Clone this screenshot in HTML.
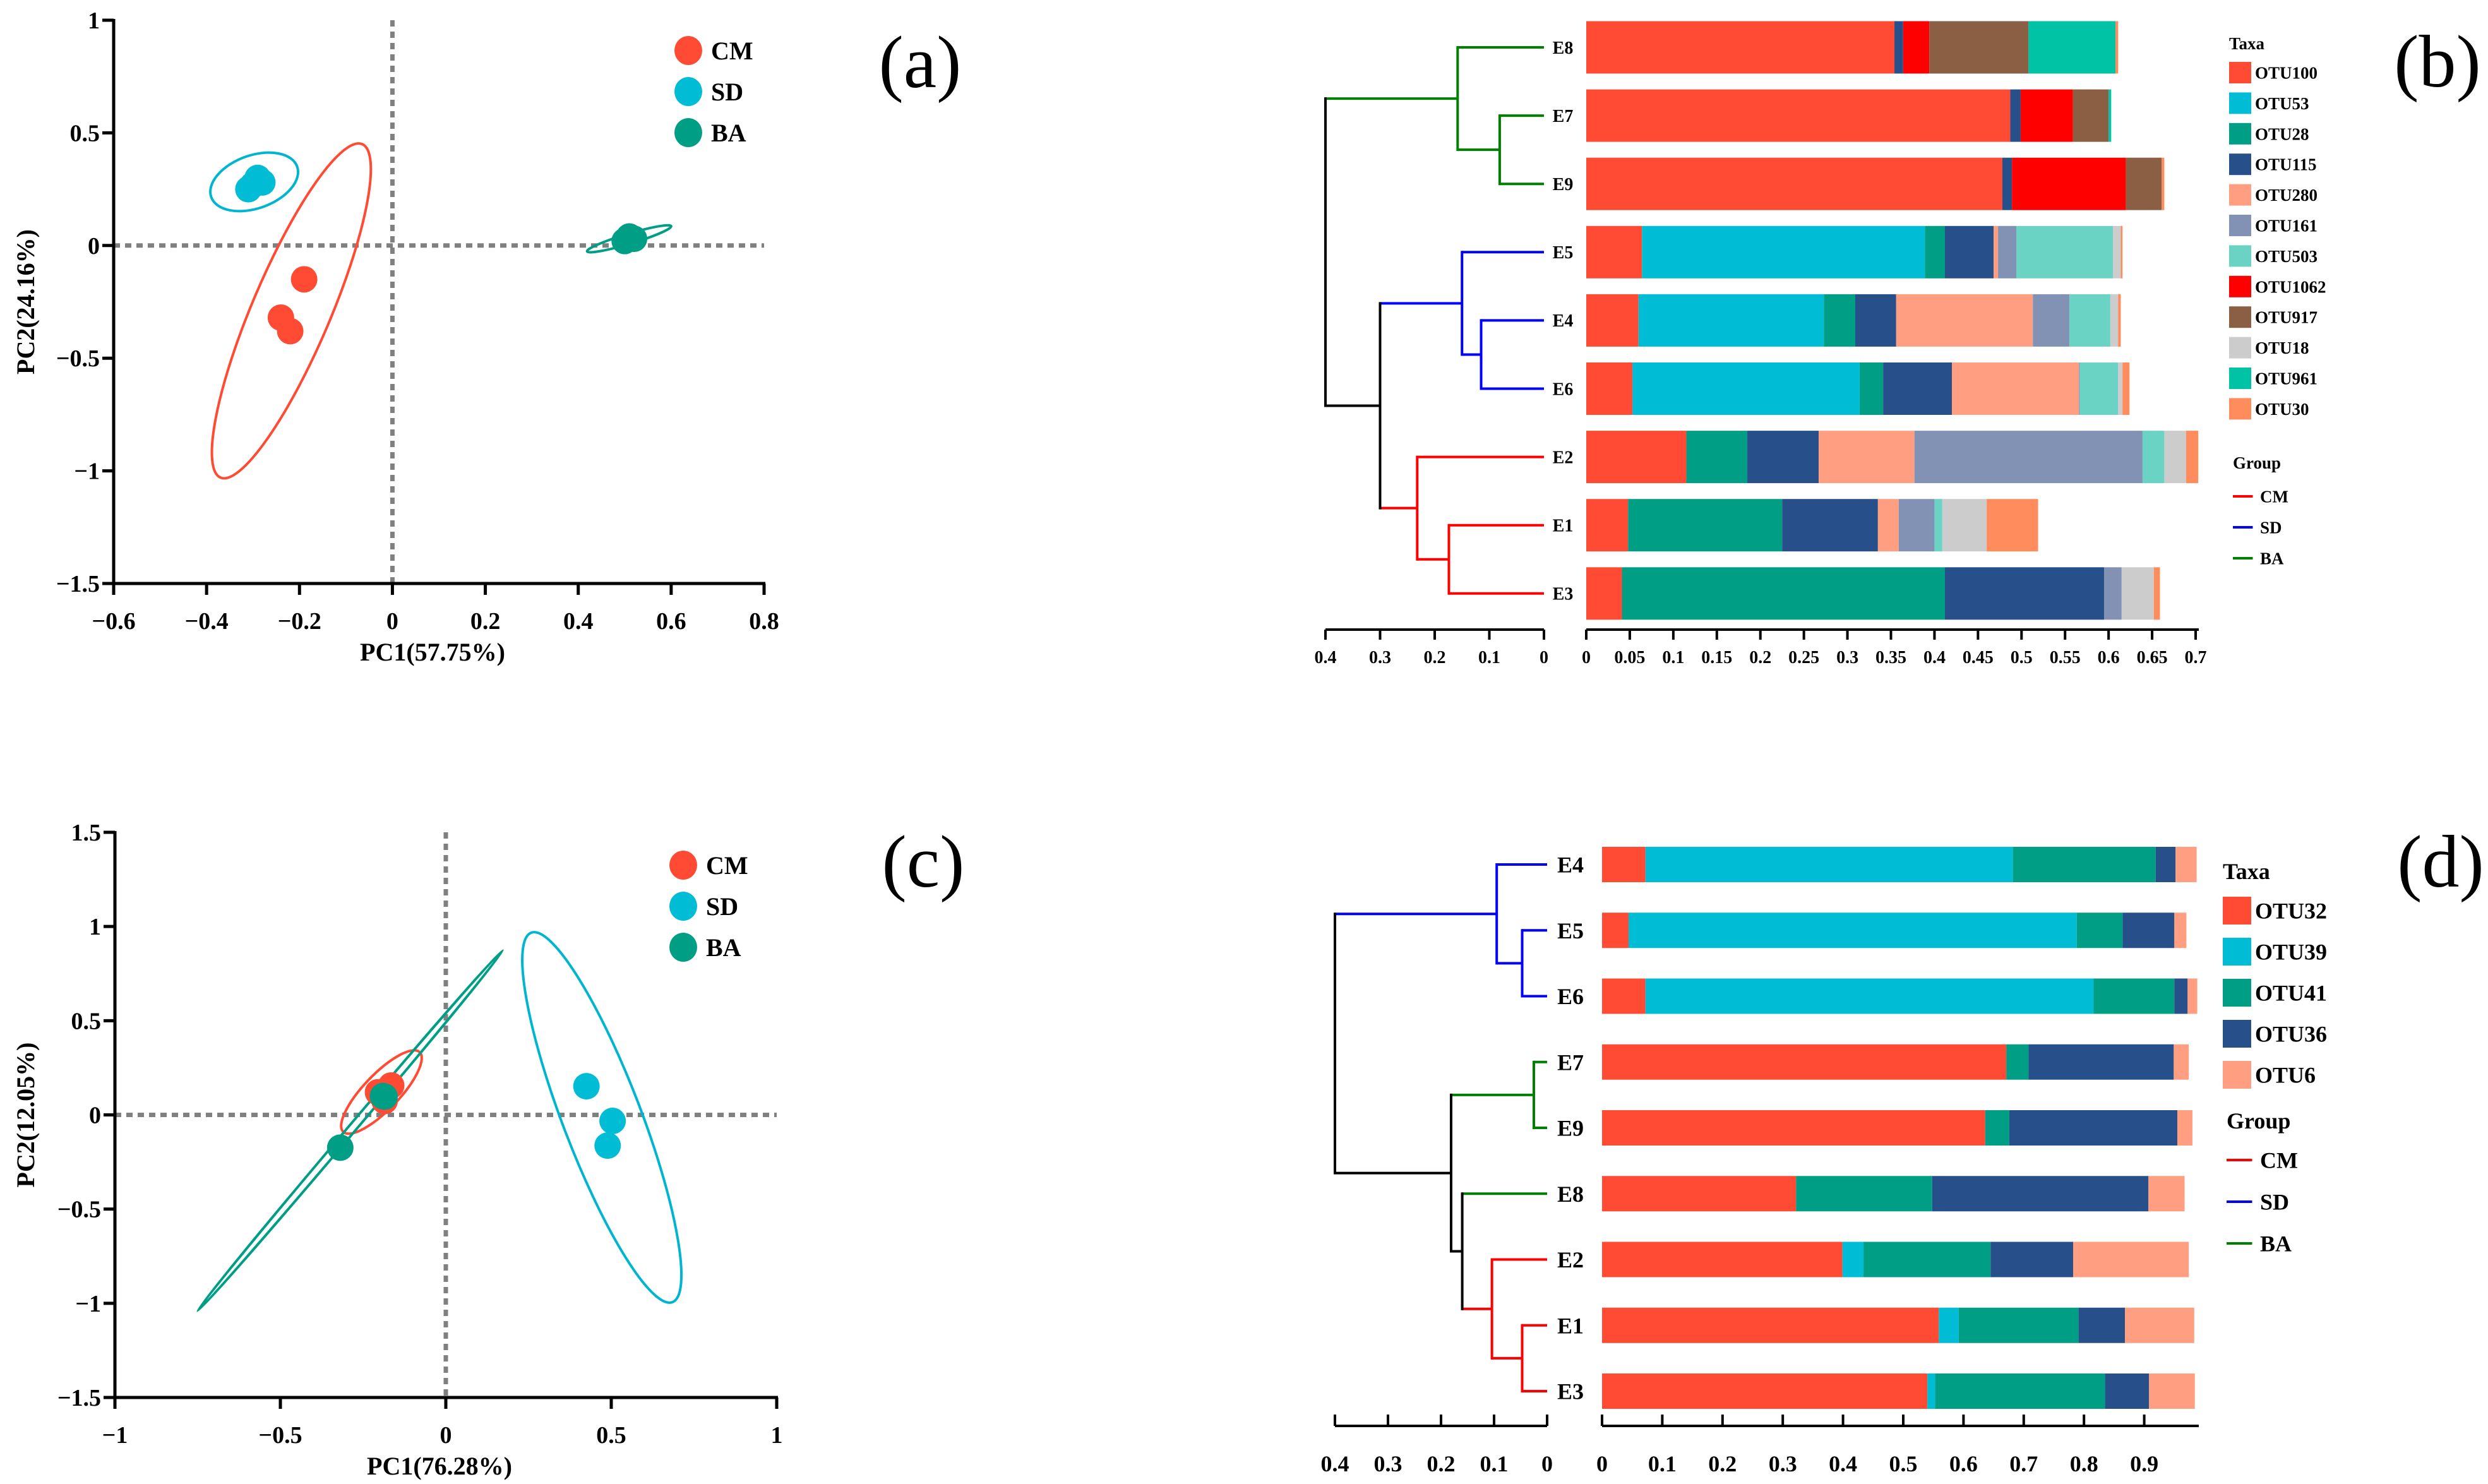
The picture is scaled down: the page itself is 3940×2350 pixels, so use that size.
<!DOCTYPE html>
<html><head><meta charset="utf-8"><style>
html,body{margin:0;padding:0;background:#fff;}
svg{display:block;font-family:"Liberation Serif",serif;font-weight:bold;}
</style></head><body>
<svg id="fig" width="3940" height="2350" viewBox="0 0 3940 2350" xmlns="http://www.w3.org/2000/svg">
<rect width="3940" height="2350" fill="#fff"/>
</svg>
<script>
// ---------- Panel (a) data ----------
const a_xticks = [-0.6,-0.4,-0.2,0,0.2,0.4,0.6,0.8];
const a_yticks = [1,0.5,0,-0.5,-1,-1.5];
const a_cm_x = [-0.19,-0.24,-0.22];
const a_cm_y = [-0.15,-0.32,-0.38];
const a_sd_x = [-0.30,-0.29,-0.28,-0.31];
const a_sd_y = [0.27,0.30,0.28,0.25];
const a_ba_x = [0.50,0.52,0.51];
const a_ba_y = [0.02,0.03,0.04];
// ellipse endpoints (data): x1,y1,x2,y2
const a_cm_ell = [-0.065,0.45,-0.37,-1.03];
const a_sd_ell = [-0.39,0.215,-0.205,0.35];
const a_ba_ell = [0.419,-0.026,0.60,0.086];
// ---------- Panel (c) data ----------
const c_xticks = [-1,-0.5,0,0.5,1];
const c_yticks = [1.5,1,0.5,0,-0.5,-1,-1.5];
const c_cm_x = [-0.165,-0.205,-0.185];
const c_cm_y = [0.156,0.12,0.074];
const c_sd_x = [0.425,0.504,0.489];
const c_sd_y = [0.152,-0.032,-0.163];
const c_ba_x = [-0.319,-0.185,-0.19];
const c_ba_y = [-0.174,0.097,0.1];
const c_cm_ell = [-0.31,-0.09,-0.079,0.333];
const c_sd_ell = [0.258,0.967,0.685,-0.994];
const c_ba_ell = [-0.75,-1.04,0.172,0.873];
// ---------- Panel (b) data ----------
const b_samples = ['E8','E7','E9','E5','E4','E6','E2','E1','E3'];
const b_taxa = ['OTU100','OTU53','OTU28','OTU115','OTU280','OTU161','OTU503','OTU1062','OTU917','OTU18','OTU961','OTU30'];
const b_OTU100 = [0.354,0.487,0.478,0.064,0.060,0.053,0.115,0.048,0.041];
const b_OTU53 = [0,0,0,0.325,0.213,0.261,0,0,0];
const b_OTU28 = [0,0,0,0.023,0.036,0.027,0.070,0.177,0.371];
const b_OTU115 = [0.010,0.012,0.011,0.056,0.047,0.079,0.082,0.110,0.183];
const b_OTU280 = [0,0,0,0.005,0.157,0.146,0.110,0.024,0];
const b_OTU161 = [0,0,0,0.021,0.042,0.001,0.262,0.041,0.020];
const b_OTU503 = [0,0,0,0.111,0.047,0.044,0.025,0.009,0];
const b_OTU1062 = [0.030,0.060,0.131,0,0,0,0,0,0];
const b_OTU917 = [0.114,0.041,0.041,0,0,0,0,0,0];
const b_OTU18 = [0,0,0,0.009,0.009,0.005,0.025,0.051,0.037];
const b_OTU961 = [0.100,0.003,0,0,0,0,0,0,0];
const b_OTU30 = [0.003,0,0.003,0.002,0.003,0.008,0.014,0.059,0.007];
const b_xticks = [0,0.05,0.1,0.15,0.2,0.25,0.3,0.35,0.4,0.45,0.5,0.55,0.6,0.65,0.7];
const b_dticks = [0.4,0.3,0.2,0.1,0];
const b_leafgroup = ['BA','BA','BA','SD','SD','SD','CM','CM','CM'];
const b_merges = [[1,2,0.081,'BA'],[0,9,0.158,'BA'],[4,5,0.115,'SD'],[3,11,0.15,'SD'],[7,8,0.174,'CM'],[6,13,0.232,'CM'],[12,14,0.3,'k'],[10,15,0.4,'k']];
// ---------- Panel (d) data ----------
const d_samples = ['E4','E5','E6','E7','E9','E8','E2','E1','E3'];
const d_taxa = ['OTU32','OTU39','OTU41','OTU36','OTU6'];
const d_OTU32 = [0.072,0.044,0.072,0.671,0.636,0.322,0.399,0.559,0.540];
const d_OTU39 = [0.610,0.744,0.744,0,0,0,0.035,0.033,0.013];
const d_OTU41 = [0.237,0.076,0.134,0.037,0.040,0.226,0.211,0.199,0.282];
const d_OTU36 = [0.033,0.086,0.022,0.241,0.279,0.359,0.137,0.077,0.073];
const d_OTU6 = [0.035,0.020,0.016,0.025,0.025,0.060,0.192,0.115,0.076];
const d_xticks = [0,0.1,0.2,0.3,0.4,0.5,0.6,0.7,0.8,0.9];
const d_dticks = [0.4,0.3,0.2,0.1,0];
const d_leafgroup = ['SD','SD','SD','BA','BA','BA','CM','CM','CM'];
const d_merges = [[1,2,0.047,'SD'],[0,9,0.095,'SD'],[3,4,0.025,'BA'],[7,8,0.047,'CM'],[6,12,0.104,'CM'],[5,13,0.16,'k'],[11,14,0.181,'k'],[10,15,0.4,'k']];

const NS = 'http://www.w3.org/2000/svg';
const svg = document.getElementById('fig');
function mk(tag, attrs, parent){
  const e = document.createElementNS(NS, tag);
  for (const k in attrs) e.setAttribute(k, attrs[k]);
  (parent||svg).appendChild(e);
  return e;
}
function txt(s, attrs, parent){ const e = mk('text', attrs, parent); e.textContent = s; return e; }
const GC = {CM:'#FF4B33', SD:'#00BCD4', BA:'#009E85'};
const LC = {CM:'#FF0000', SD:'#0000FF', BA:'#008000', k:'#000000'};
const ELC = {CM:'#FF4B33', SD:'#00B5D0', BA:'#009E85'};

function scatter(p){
  const g = mk('g', {});
  
  
  const sx = v => p.x0 + (v - p.xmin)/(p.xmax - p.xmin)*(p.x1 - p.x0);
  const sy = v => p.y1 - (v - p.ymin)/(p.ymax - p.ymin)*(p.y1 - p.y0);
  let l = mk('line', {x1:sx(0), x2:sx(0), y1:p.y0, y2:p.y1, stroke:'#808080', 'stroke-width':7, 'stroke-dasharray':'10 8'}, g);
  
  
  l = mk('line', {x1:p.x0, x2:sx(p.xmax), y1:sy(0), y2:sy(0), stroke:'#808080', 'stroke-width':7, 'stroke-dasharray':'10 8'}, g);
  
  
  p.ells.forEach(([grp, e, w]) => {
    const ax = sx(e[0]), ay = sy(e[1]), bx = sx(e[2]), by = sy(e[3]);
    const cx = (ax+bx)/2, cy = (ay+by)/2;
    const rx = Math.hypot(bx-ax, by-ay)/2;
    const ang = Math.atan2(by-ay, bx-ax)*180/Math.PI;
    const el = mk('ellipse', {cx:cx, cy:cy, rx:rx, ry:w, fill:'none', stroke:ELC[grp], 'stroke-width':4, transform:`rotate(${ang} ${cx} ${cy})`}, g);
    
    
  });
  p.pts.forEach(([grp, xs, ys]) => {
    xs.forEach((v, i) => {
      const c = mk('ellipse', {cx:sx(v), cy:sy(ys[i]), rx:p.r, ry:p.r, fill:GC[grp]}, g);
      
      
    });
  });
  let ax = mk('line', {x1:p.x0, x2:p.x0, y1:p.y0-2, y2:p.y1+2, stroke:'#000', 'stroke-width':5}, g);
  
  
  ax = mk('line', {x1:p.x0-2, x2:p.x1+2, y1:p.y1, y2:p.y1, stroke:'#000', 'stroke-width':5}, g);
  
  
  p.xticks.forEach(v => {
    const t = mk('line', {x1:sx(v), x2:sx(v), y1:p.y1, y2:p.y1+18, stroke:'#000', 'stroke-width':5}, g);
    
    
    const lb = txt(String(v).replace('-','\u2212'), {x:sx(v), y:p.y1+72, 'text-anchor':'middle', 'font-size':38}, g);
    
    
  });
  p.yticks.forEach(v => {
    const t = mk('line', {x1:p.x0-18, x2:p.x0, y1:sy(v), y2:sy(v), stroke:'#000', 'stroke-width':5}, g);
    
    
    const lb = txt(String(v).replace('-','\u2212'), {x:p.x0-22, y:sy(v)+13, 'text-anchor':'end', 'font-size':38}, g);
    
    
  });
  const xt = txt(p.xtitle, {x:(p.x0+p.x1)/2 - 10, y:p.y1+122, 'text-anchor':'middle', 'font-size':40}, g);
  
  
  const yt = txt(p.ytitle, {x:0, y:0, 'text-anchor':'middle', 'font-size':40, transform:`translate(54 ${(p.y0+p.y1)/2}) rotate(-90)`}, g);
  
  
  ['CM','SD','BA'].forEach((k, i) => {
    const cy = p.legy + i*65;
    const c = mk('ellipse', {cx:p.legx, cy:cy, rx:22, ry:23, fill:GC[k]}, g);
    
    
    const t = txt(k, {x:p.legx+36, y:cy+14, 'font-size':40}, g);
    
    
  });
  const pl = txt(p.label, {x:p.labx, y:p.laby, 'text-anchor':'middle', 'font-size':118, 'font-weight':'normal'}, g);
  
  
}

scatter({name:'pca-plot-a', x0:180, x1:1210, y0:32, y1:924, xmin:-0.6, xmax:0.8, ymin:-1.5, ymax:1,
  xticks:a_xticks, yticks:a_yticks, r:21,
  pts:[['CM',a_cm_x,a_cm_y],['SD',a_sd_x,a_sd_y],['BA',a_ba_x,a_ba_y]],
  ells:[['CM',a_cm_ell,62],['SD',a_sd_ell,42],['BA',a_ba_ell,8]],
  xtitle:'PC1(57.75%)', ytitle:'PC2(24.16%)', legx:1090, legy:80, label:'(a)', labx:1457, laby:138});

scatter({name:'pca-plot-c', x0:182, x1:1230, y0:1318, y1:2213, xmin:-1, xmax:1, ymin:-1.5, ymax:1.5,
  xticks:c_xticks, yticks:c_yticks, r:21,
  pts:[['CM',c_cm_x,c_cm_y],['BA',c_ba_x,c_ba_y],['SD',c_sd_x,c_sd_y]],
  ells:[['CM',c_cm_ell,28],['SD',c_sd_ell,62],['BA',c_ba_ell,6]],
  xtitle:'PC1(76.28%)', ytitle:'PC2(12.05%)', legx:1082, legy:1370, label:'(c)', labx:1462, laby:1404});

function barPanel(p){
  const g = mk('g', {});
  
  
  const sx = v => p.bx0 + v*p.bscale;
  const rowY = i => p.ry0 + i*p.rstep;
  const dx = h => p.d0 - (p.d0 - p.d4)*h/0.4;
  p.samples.forEach((s, i) => {
    let acc = 0;
    p.series.forEach((arr, k) => {
      const v = arr[i];
      if (v <= 0) { return; }
      const r = mk('rect', {x:sx(acc), y:rowY(i)-p.bh/2, width:v*p.bscale, height:p.bh, fill:p.colors[k]}, g);
      
      
      acc += v;
    });
    const lb = txt(s, {x:p.labx, y:rowY(i)+p.lfs*0.35, 'text-anchor':'middle', 'font-size':p.lfs}, g);
    
    
  });
  const nodes = p.samples.map((s, i) => ({y:rowY(i), h:0, c:p.leafgroup[i]}));
  p.merges.forEach(([a, b, h, c]) => {
    const A = nodes[a], B = nodes[b];
    [A, B].forEach(n => {
      const hl = mk('line', {x1:dx(n.h), x2:dx(h), y1:n.y, y2:n.y, stroke:LC[n.c], 'stroke-width':p.lw}, g);
      
      
    });
    const vl = mk('line', {x1:dx(h), x2:dx(h), y1:A.y, y2:B.y, stroke:LC[c], 'stroke-width':p.lw, 'stroke-linecap':'square'}, g);
    
    
    nodes.push({y:(A.y+B.y)/2, h:h, c:c});
  });
  let ax = mk('line', {x1:p.bx0, x2:p.bxEnd, y1:p.ay, y2:p.ay, stroke:'#000', 'stroke-width':4}, g);
  
  
  p.xticks.forEach(v => {
    const t = mk('line', {x1:sx(v), x2:sx(v), y1:p.ay-p.tk, y2:p.ay+p.tk2, stroke:'#000', 'stroke-width':4}, g);
    
    
    const lb = txt(String(v), {x:sx(v), y:p.tly, 'text-anchor':'middle', 'font-size':p.tfs}, g);
    
    
  });
  ax = mk('line', {x1:p.d4, x2:p.d0, y1:p.ay, y2:p.ay, stroke:'#000', 'stroke-width':4}, g);
  
  
  p.dticks.forEach(v => {
    const t = mk('line', {x1:dx(v), x2:dx(v), y1:p.ay-p.tk, y2:p.ay+p.tk2, stroke:'#000', 'stroke-width':4}, g);
    
    
    const lb = txt(String(v), {x:dx(v), y:p.tly, 'text-anchor':'middle', 'font-size':p.tfs}, g);
    
    
  });
  const tt = txt('Taxa', {x:p.legx, y:p.taxay, 'font-size':p.legfs}, g);
  
  
  p.taxa.forEach((t, k) => {
    const cy = p.legy0 + k*p.legstep;
    const sw = mk('rect', {x:p.legx, y:cy-p.swh/2, width:p.sww, height:p.swh, fill:p.colors[k]}, g);
    
    
    const lb = txt(t, {x:p.legx+p.sww+6, y:cy+p.legfs*0.35, 'font-size':p.legfs}, g);
    
    
  });
  const gt = txt('Group', {x:p.legx+6, y:p.grpy, 'font-size':p.legfs}, g);
  
  
  ['CM','SD','BA'].forEach((k, i) => {
    const cy = p.grpy0 + i*p.grpstep;
    const ln = mk('line', {x1:p.legx+6, x2:p.legx+6+p.sww*0.9, y1:cy, y2:cy, stroke:LC[k], 'stroke-width':4}, g);
    
    
    const lb = txt(k, {x:p.legx+14+p.sww, y:cy+p.legfs*0.35, 'font-size':p.legfs}, g);
    
    
  });
  const pl = txt(p.label, {x:p.labx2, y:p.laby2, 'text-anchor':'middle', 'font-size':118, 'font-weight':'normal'}, g);
  
  
}

barPanel({name:'stacked-bar-dendrogram-b', samples:b_samples, taxa:b_taxa,
  series:[b_OTU100,b_OTU53,b_OTU28,b_OTU115,b_OTU280,b_OTU161,b_OTU503,b_OTU1062,b_OTU917,b_OTU18,b_OTU961,b_OTU30],
  colors:['#FF4B33','#00BCD4','#009E85','#27508A','#FF9E80','#8292B4','#6BD3C3','#FF0000','#8A5F44','#CCCCCC','#00C2A4','#FF8C5C'],
  leafgroup:b_leafgroup, merges:b_merges, xticks:b_xticks, dticks:b_dticks,
  bx0:2512, bscale:1378.6, bxEnd:3482, ry0:75, rstep:108.1, bh:83, labx:2475, lfs:28,
  d0:2445, d4:2099, lw:4, ay:997, tk:0, tk2:16, tly:1050, tfs:28,
  legx:3530, taxay:78, legy0:115, legstep:48.4, sww:35, swh:34, legfs:27,
  grpy:742, grpy0:786, grpstep:49, label:'(b)', labx2:3860, laby2:137});

barPanel({name:'stacked-bar-dendrogram-d', samples:d_samples, taxa:d_taxa,
  series:[d_OTU32,d_OTU39,d_OTU41,d_OTU36,d_OTU6],
  colors:['#FF4B33','#00BCD4','#009E85','#27508A','#FF9E80'],
  leafgroup:d_leafgroup, merges:d_merges, xticks:d_xticks, dticks:d_dticks,
  bx0:2537, bscale:954, bxEnd:3482, ry0:1369, rstep:104.25, bh:56, labx:2487, lfs:36,
  d0:2450, d4:2114, lw:4, ay:2258, tk:18, tk2:0, tly:2330, tfs:36,
  legx:3520, taxay:1392, legy0:1442, legstep:65, sww:45, swh:44, legfs:36,
  grpy:1787, grpy0:1837, grpstep:66, label:'(d)', labx2:3865, laby2:1404});
</script>
</body></html>
